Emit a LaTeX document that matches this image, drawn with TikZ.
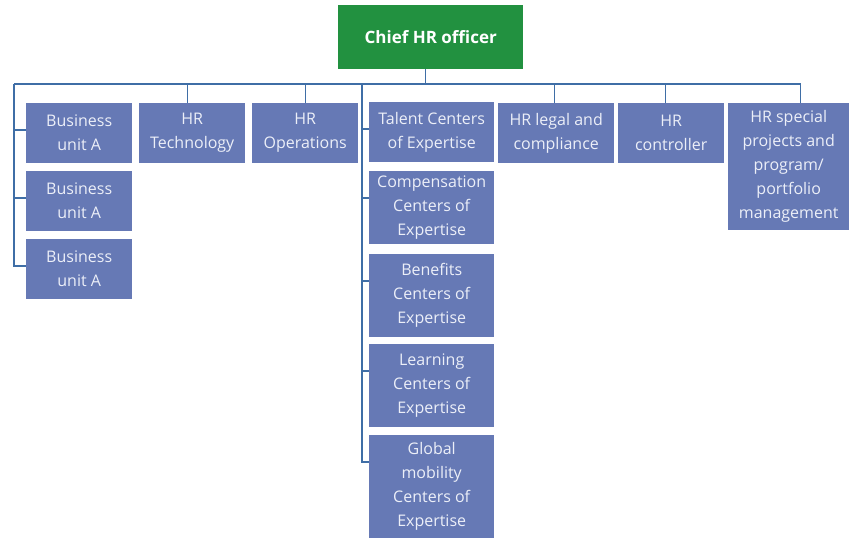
\documentclass[tikz,border=0pt]{standalone}
\usepackage{fontspec}
\setmainfont{Open Sans}
\usetikzlibrary{positioning}
\definecolor{hrgreen}{HTML}{229140}
\definecolor{hrblue}{HTML}{6679B5}
\definecolor{hrline}{HTML}{3F6EA6}
\definecolor{hrtext}{HTML}{ECEFF8}
\tikzset{
  unit/.style={fill=hrblue, text=hrtext, align=center, inner sep=0pt,
    anchor=north west, font=\fontsize{16}{24}\selectfont},
  link/.style={draw=hrline, line width=1.3pt},
}

\begin{document}
\begin{tikzpicture}[x=1pt,y=-1pt]
\useasboundingbox (0,0) rectangle (851,538);

% head of the tree
\node[unit, fill=hrgreen, text=white, font=\bfseries\fontsize{17}{24}\selectfont,
  minimum width=185pt, minimum height=64pt] (chief) at (338,5) {Chief HR officer};

% business units
\node[unit, minimum width=106pt, minimum height=60pt] (bua1) at (26,103) {Business\\unit A};
\node[unit, minimum width=106pt, minimum height=60pt] (bua2) at (26,171) {Business\\unit A};
\node[unit, minimum width=106pt, minimum height=60pt] (bua3) at (26,239) {Business\\unit A};

% first row
\node[unit, minimum width=106pt, minimum height=60pt] (tech) at (139,103) {HR\\Technology};
\node[unit, minimum width=106pt, minimum height=60pt] (ops) at (252,103) {HR\\Operations};
\node[unit, minimum width=116pt, minimum height=60pt] (legal) at (498,103) {HR legal and\\compliance};
\node[unit, minimum width=106pt, minimum height=60pt] (controller) at (618,103) {HR\\controller};
\node[unit, minimum width=121pt, minimum height=127pt] (special) at (728,103)
  {HR special\\projects and\\program/\\portfolio\\management};

% centers of expertise
\node[unit, minimum width=125pt, minimum height=60pt] (talent) at (369,102) {Talent Centers\\of Expertise};
\node[unit, minimum width=125pt, minimum height=73pt] (comp) at (369,171) {Compensation\\Centers of\\Expertise};
\node[unit, minimum width=125pt, minimum height=83pt] (benefits) at (369,254) {Benefits\\Centers of\\Expertise};
\node[unit, minimum width=125pt, minimum height=83pt] (learning) at (369,344) {Learning\\Centers of\\Expertise};
\node[unit, minimum width=125pt, minimum height=103pt] (mobility) at (369,435) {Global\\mobility\\Centers of\\Expertise};

% bus lines
\coordinate (bus) at (14,84);
\coordinate (coe) at (362,84);
\draw[link] ([xshift=-5pt]chief.south) -- ([xshift=-5pt]chief.south |- bus);
\draw[link] (bus) -- ([xshift=12pt]special.north |- bus);
\foreach \n/\dx in {tech/-5, ops/0, legal/-2, controller/-6, special/12}
  \draw[link] ([xshift=\dx pt]\n.north) -- ([xshift=\dx pt]\n.north |- bus);

% side branches
\foreach \n in {bua1,bua2,bua3,talent,comp,benefits,learning,mobility}
  \coordinate (t\n) at ([yshift=-27pt]\n.north west);
\draw[link] (bus) |- (tbua3);
\draw[link] (coe) |- (tmobility);
\foreach \n in {bua1,bua2}
  \draw[link] (t\n) -- (t\n -| bus);
\foreach \n in {talent,comp,benefits,learning}
  \draw[link] (t\n) -- (t\n -| coe);
\end{tikzpicture}
\end{document}
